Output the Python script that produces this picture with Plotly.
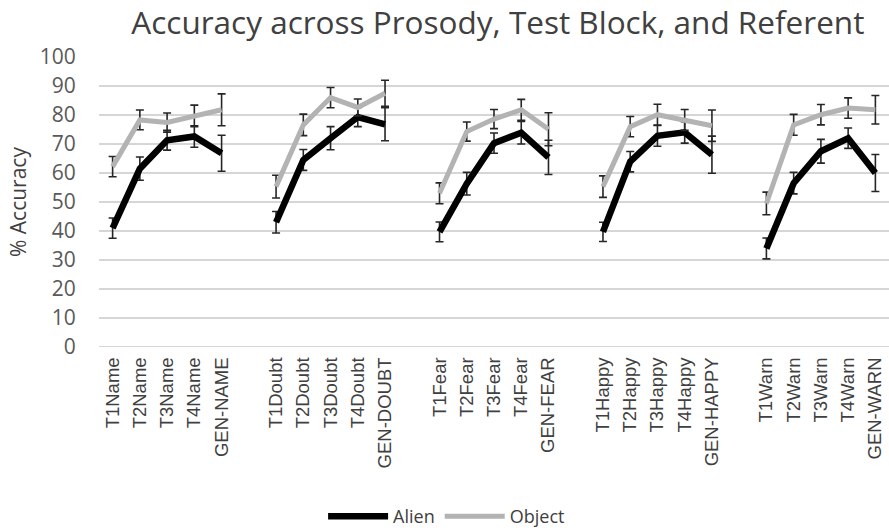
import plotly.graph_objects as go

groups = ["Name", "Doubt", "Fear", "Happy", "Warn"]
tick_labels = [
    "T1Name", "T2Name", "T3Name", "T4Name", "GEN-NAME",
    "T1Doubt", "T2Doubt", "T3Doubt", "T4Doubt", "GEN-DOUBT",
    "T1Fear", "T2Fear", "T3Fear", "T4Fear", "GEN-FEAR",
    "T1Happy", "T2Happy", "T3Happy", "T4Happy", "GEN-HAPPY",
    "T1Warn", "T2Warn", "T3Warn", "T4Warn", "GEN-WARN",
]
alien = [41, 61.5, 71.3, 72.6, 66.8,
         43, 64.5, 72, 79.3, 76.8,
         39.7, 56.3, 70.3, 73.9, 65.4,
         39.7, 63.9, 72.8, 74, 66.3,
         34, 56.5, 67.5, 72, 60]
alien_err = [3.5, 4, 3.4, 3.7, 6.2,
             3.7, 3.6, 4, 3.3, 5.7,
             3.4, 3.9, 3.5, 3.9, 5.9,
             3.3, 3.5, 3.6, 3.7, 6.4,
             3.6, 3.7, 4.1, 3.5, 6.4]
obj = [62.2, 78.3, 77.4, 79.7, 81.8,
       55.3, 76.6, 86, 82.6, 87.5,
       53, 74.3, 78.6, 81.8, 75.1,
       55.3, 76, 80.1, 78.3, 76.3,
       49.5, 76.6, 80.1, 82.4, 81.8]
obj_err = [3.5, 3.4, 3.3, 3.7, 5.5,
           3.9, 3.7, 3.5, 2.9, 4.5,
           3.6, 3.3, 3.3, 3.6, 5.7,
           3.7, 3.5, 3.6, 3.6, 5.4,
           3.9, 3.6, 3.5, 3.5, 4.9]

n_per = 5
slot = n_per + 1
positions = [g * slot + i for g in range(len(groups)) for i in range(n_per)]

def seg(vals):
    out = []
    for g in range(len(groups)):
        out += vals[g * n_per:(g + 1) * n_per] + [None]
    return out

xs = seg(positions)

fig = go.Figure()
fig.add_trace(go.Scatter(
    x=xs, y=seg(alien), name="Alien", mode="lines",
    line=dict(color="#000000", width=6.5),
    error_y=dict(type="data", array=seg(alien_err), color="#262626", thickness=1.6, width=4),
    connectgaps=False,
))
fig.add_trace(go.Scatter(
    x=xs, y=seg(obj), name="Object", mode="lines",
    line=dict(color="#b3b3b3", width=5),
    error_y=dict(type="data", array=seg(obj_err), color="#262626", thickness=1.6, width=4),
    connectgaps=False,
))

fig.update_layout(
    width=889, height=531,
    margin=dict(l=99, r=0, t=57, b=184, autoexpand=False),
    paper_bgcolor="white", plot_bgcolor="white",
    title=dict(text="Accuracy across Prosody, Test Block, and Referent",
               x=0.56, xanchor="center", y=0.957, yanchor="middle",
               font=dict(family="Open Sans", size=31.5, color="#404040")),
    xaxis=dict(range=[-0.5, 28.5], tickmode="array", tickvals=positions, ticktext=tick_labels,
               tickangle=-90, showgrid=False, zeroline=False, showline=False,
               ticks="outside", ticklen=2, tickcolor="rgba(0,0,0,0)",
               automargin=False,
               tickfont=dict(family="Liberation Sans", size=18.5, color="#404040")),
    yaxis=dict(range=[0, 100], tickmode="array", tickvals=list(range(0, 101, 10)),
               showgrid=True, gridcolor="#d6d6d6", gridwidth=2, zeroline=False,
               showline=False, ticks="outside", ticklen=18, tickcolor="rgba(0,0,0,0)",
               automargin=False,
               tickfont=dict(family="Open Sans", size=21, color="#595959")),
    legend=dict(orientation="h", x=0.44, xanchor="center", y=-0.585, yanchor="middle",
                bgcolor="rgba(0,0,0,0)",
                font=dict(family="Open Sans", size=18, color="#404040"), itemwidth=60),
    showlegend=True,
)
fig.add_annotation(text="% Accuracy", xref="paper", yref="paper", x=-0.1025, y=0.5,
                   xanchor="center", yanchor="middle", textangle=-90, showarrow=False,
                   font=dict(family="Open Sans", size=21, color="#404040"))
fig.add_shape(type="line", xref="paper", yref="y", x0=0, x1=1, y0=0, y1=0,
              line=dict(color="#d6d6d6", width=2), layer="below")

fig.write_html("out.html", config={"displayModeBar": False},
               post_script="document.body.style.margin='0';document.body.style.overflow='hidden';")
